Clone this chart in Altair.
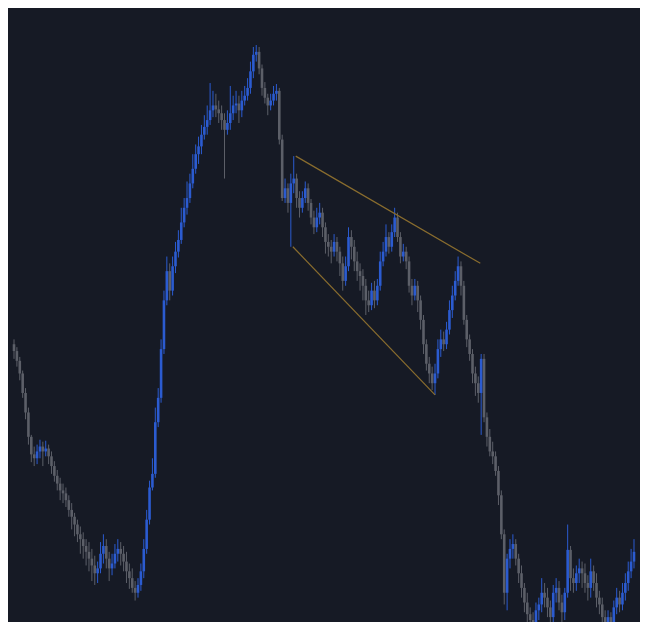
import altair as alt
import pandas as pd

# price = 630 - level
FIRST_OPEN_LEVEL = 345

CLOSE_LEVEL = [
    352, 362, 375, 395, 415, 440, 458, 462, 455, 450,
    455, 452, 460, 470, 480, 488, 495, 498, 505, 515,
    522, 530, 540, 545, 552, 558, 565, 572, 580, 575,
    560, 552, 565, 575, 570, 560, 555, 560, 568, 578,
    585, 595, 600, 592, 578, 555, 525, 492, 478, 425,
    400, 350, 300, 270, 290, 265, 250, 238, 220, 205,
    195, 180, 165, 150, 142, 130, 122, 115, 105, 100,
    104, 108, 115, 125, 118, 108, 100, 98, 105, 95,
    90, 82, 65, 48, 45, 62, 82, 92, 100, 95,
    88, 85, 135, 195, 185, 200, 180, 175, 195, 205,
    195, 185, 200, 215, 225, 215, 210, 225, 240, 245,
    250, 240, 250, 262, 280, 265, 235, 245, 260, 270,
    275, 285, 300, 305, 290, 300, 285, 260, 250, 235,
    245, 230, 215, 235, 255, 250, 260, 285, 295, 285,
    300, 320, 345, 365, 375, 385, 375, 350, 340, 345,
    330, 310, 295, 280, 265, 285, 320, 340, 355, 375,
    385, 395, 360, 420, 440, 455, 460, 475, 500, 540,
    600, 565, 555, 550, 565, 580, 595, 610, 622, 628,
    630, 618, 612, 600, 605, 615, 625, 600, 595, 610,
    620, 600, 556, 585, 590, 580, 575, 580, 590, 595,
    578, 590, 605, 612, 625, 630, 625, 630, 615, 605,
    612, 600, 590, 578, 568, 558,
]

HIGH_LEVEL = [
    340, 348, 358, 372, 390, 410, 438, 450, 448, 443,
    445, 444, 448, 455, 465, 474, 482, 488, 492, 500,
    508, 518, 525, 532, 538, 545, 548, 555, 562, 568,
    548, 540, 545, 558, 560, 550, 545, 548, 552, 558,
    570, 575, 588, 585, 570, 545, 515, 485, 462, 410,
    390, 340, 290, 255, 262, 255, 240, 228, 205, 195,
    178, 170, 150, 140, 132, 120, 110, 100, 77, 85,
    88, 95, 100, 108, 105, 80, 90, 85, 90, 85,
    80, 72, 55, 40, 38, 40, 58, 76, 88, 88,
    80, 78, 82, 130, 175, 180, 170, 152, 170, 188,
    188, 178, 180, 196, 208, 205, 200, 205, 220, 232,
    238, 232, 235, 245, 255, 255, 225, 228, 238, 250,
    262, 268, 278, 290, 282, 280, 278, 250, 240, 222,
    230, 222, 205, 210, 230, 242, 245, 255, 278, 278,
    280, 295, 315, 340, 358, 368, 365, 340, 330, 332,
    322, 300, 285, 270, 255, 260, 280, 315, 335, 350,
    368, 378, 355, 355, 415, 432, 445, 455, 470, 495,
    535, 560, 545, 540, 545, 560, 572, 590, 600, 615,
    620, 610, 605, 585, 590, 595, 608, 592, 585, 588,
    602, 595, 530, 552, 575, 572, 565, 568, 570, 582,
    565, 572, 580, 598, 605, 618, 618, 620, 608, 595,
    598, 590, 580, 568, 555, 545,
]

LOW_LEVEL = [
    360, 368, 382, 400, 422, 448, 466, 470, 468, 462,
    470, 460, 468, 478, 486, 495, 505, 508, 512, 522,
    535, 542, 548, 560, 565, 572, 578, 588, 592, 590,
    580, 570, 575, 588, 582, 575, 568, 572, 578, 590,
    596, 600, 608, 605, 598, 585, 560, 530, 495, 482,
    430, 405, 355, 305, 300, 295, 272, 256, 242, 225,
    212, 200, 185, 170, 160, 150, 135, 130, 120, 112,
    112, 118, 125, 175, 130, 125, 115, 108, 118, 112,
    100, 95, 88, 72, 55, 68, 90, 98, 110, 105,
    100, 95, 140, 198, 200, 210, 245, 190, 205, 215,
    210, 200, 208, 222, 232, 230, 222, 235, 252, 255,
    262, 255, 260, 275, 290, 285, 270, 258, 270, 280,
    290, 300, 315, 312, 310, 308, 305, 290, 265, 255,
    252, 250, 235, 240, 262, 260, 268, 292, 305, 300,
    312, 330, 355, 372, 385, 392, 397, 380, 358, 352,
    350, 335, 318, 300, 285, 295, 325, 348, 362, 385,
    398, 405, 438, 425, 450, 460, 468, 480, 510, 545,
    612, 618, 575, 565, 572, 590, 605, 620, 630, 635,
    640, 635, 628, 620, 615, 625, 635, 632, 610, 618,
    630, 628, 605, 598, 600, 598, 590, 595, 600, 608,
    605, 598, 615, 622, 635, 640, 640, 640, 638, 622,
    620, 618, 608, 598, 585, 575,
]

# Wedge trend lines: (bar index, level) endpoints
WEDGE_X1 = [97.7, 96.7]
WEDGE_Y1_LEVEL = [152, 245]
WEDGE_X2 = [161.7, 146.0]
WEDGE_Y2_LEVEL = [262, 397]

TOP = 630
n = len(CLOSE_LEVEL)
closes = [TOP - v for v in CLOSE_LEVEL]
opens = [TOP - FIRST_OPEN_LEVEL] + closes[:-1]
highs = [TOP - v for v in HIGH_LEVEL]
lows = [TOP - v for v in LOW_LEVEL]

df = pd.DataFrame({
    "bar": list(range(n)),
    "open": opens,
    "close": closes,
    "high": highs,
    "low": lows,
})
df["dir"] = ["up" if c >= o else "down" for o, c in zip(opens, closes)]

lines = pd.DataFrame({
    "x1": WEDGE_X1,
    "x2": WEDGE_X2,
    "y1": [TOP - v for v in WEDGE_Y1_LEVEL],
    "y2": [TOP - v for v in WEDGE_Y2_LEVEL],
})

xs = alt.Scale(domain=[-0.35, n - 0.65], nice=False, zero=False)
ys = alt.Scale(domain=[0, TOP], nice=False, zero=False)
color = alt.Color(
    "dir:N",
    scale=alt.Scale(domain=["up", "down"], range=["#2b5bd0", "#5c5f68"]),
    legend=None,
)

base = alt.Chart(df)

wicks = base.mark_rule(strokeWidth=1, clip=True).encode(
    x=alt.X("bar:Q", scale=xs, axis=None),
    y=alt.Y("low:Q", scale=ys, axis=None),
    y2="high:Q",
    color=color,
)

bodies = base.mark_bar(size=2.6, clip=True).encode(
    x=alt.X("bar:Q", scale=xs, axis=None),
    y=alt.Y("open:Q", scale=ys, axis=None),
    y2="close:Q",
    color=color,
)

wedge = alt.Chart(lines).mark_rule(strokeWidth=1.2, color="#8a6d2e", clip=True).encode(
    x=alt.X("x1:Q", scale=xs, axis=None),
    x2="x2:Q",
    y=alt.Y("y1:Q", scale=ys, axis=None),
    y2="y2:Q",
)

chart = (
    alt.layer(wicks, bodies, wedge)
    .properties(
        width=632,
        height=614,
        background="#161a25",
        padding=0,
        autosize=alt.AutoSizeParams(type="fit", contains="padding"),
    )
    .configure_view(stroke=None, fill="#161a25")
)

chart.save("out.html", embed_options={"renderer": "svg", "actions": False})
